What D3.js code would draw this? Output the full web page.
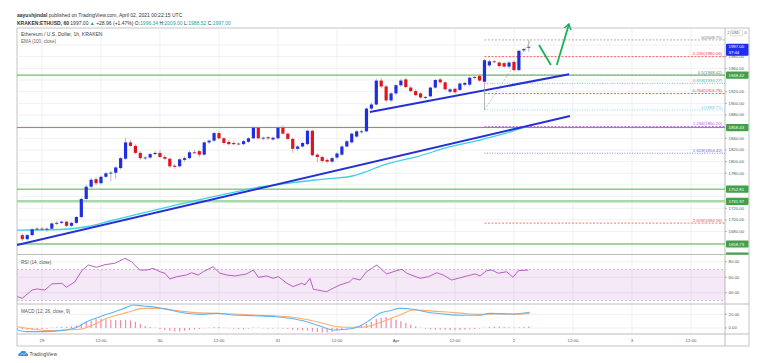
<!DOCTYPE html>
<html>
<head>
<meta charset="utf-8">
<script src="https://cdn.jsdelivr.net/npm/d3@7"></script>
<style>
  body { margin: 0; background: #fff; }
  svg { display: block; font-family: "Liberation Sans", Arial, sans-serif; }
</style>
</head>
<body>
<svg id="chart" width="772" height="363"></svg>
<script>
// hourly candles, hour 0 = 29 Mar 00:00
const firstHour = -4;
const opens = [1674,1667,1674,1684,1685,1684,1685,1694,1695,1697,1690,1695,1705,1736,1757,1770,1763,1774,1780,1781,1789,1805,1833,1827,1815,1806,1807,1813,1815,1808,1805,1793,1792,1803,1806,1816,1818,1812,1833,1836,1849,1840,1834,1832,1831,1830,1834,1840,1858,1840,1842,1838,1840,1858,1848,1839,1822,1826,1830,1853,1812,1808,1803,1800,1807,1812,1826,1833,1843,1851,1852,1891,1898,1939,1929,1905,1917,1931,1941,1927,1921,1917,1910,1912,1927,1941,1936,1920,1925,1923,1932,1932,1944,1947,1937,1965,1972,1970,1969,1963,1971,1957,1991,1996.34];
const highs = [1677,1676,1686,1688,1688,1687,1696,1698,1699,1699,1697,1707,1738,1760,1772,1773,1776,1782,1784,1792,1808,1841,1837,1830,1818,1810,1815,1818,1820,1811,1807,1796,1806,1809,1819,1820,1820,1835,1838,1851,1852,1842,1837,1835,1833,1837,1842,1860,1860,1843,1844,1843,1860,1862,1850,1841,1828,1834,1855,1855,1815,1810,1806,1808,1816,1828,1837,1850,1854,1855,1893,1901,1942,1944,1932,1919,1933,1942,1944,1930,1924,1919,1913,1929,1942,1944,1938,1926,1927,1936,1937,1946,1947,1950,1976,1975,1975,1972,1971,1972,1974,1992,1995,2009];
const lows = [1664,1665,1672,1681,1681,1680,1683,1691,1693,1688,1688,1693,1703,1733,1754,1760,1761,1772,1766,1771,1786,1803,1825,1813,1803,1803,1805,1811,1806,1802,1789,1788,1790,1800,1804,1813,1808,1810,1830,1834,1838,1829,1828,1828,1828,1828,1832,1838,1838,1836,1837,1836,1838,1846,1837,1815,1819,1824,1828,1809,1799,1798,1797,1797,1804,1810,1824,1831,1841,1848,1850,1888,1896,1926,1902,1902,1914,1928,1926,1919,1912,1908,1907,1910,1925,1933,1922,1917,1916,1921,1929,1929,1941,1937,1888.75,1962,1969,1962,1961,1960,1955,1955,1988,1988.52];
const closes = [1667,1674,1684,1685,1684,1685,1694,1695,1697,1690,1695,1705,1736,1757,1769,1763,1774,1780,1781,1790,1806,1833,1827,1815,1806,1807,1813,1815,1808,1805,1792,1791,1804,1806,1816,1815,1812,1833,1836,1849,1840,1832,1830,1830,1830,1835,1840,1858,1840,1841,1840,1841,1858,1848,1839,1822,1826,1832,1853,1811,1808,1801,1800,1806,1814,1826,1835,1848,1852,1852,1891,1898,1939,1929,1905,1917,1931,1939,1928,1921,1914,1910,1911,1927,1940,1936,1924,1924,1919,1934,1935,1944,1945,1939,1974,1972,1971,1964,1963,1970,1957,1990,1993,1997];

const emaHours = [-5.1,3.7,8.7,13.8,19.9,26,32.1,38.2,44.3,50.4,55.5,59.2,62.6,65.7,69.4,76.3,83,89.1,93.1,98.8];
const emaValues = [1682.7,1683.6,1687.9,1698.2,1711,1723,1735,1746,1756.5,1763.4,1768.5,1771.4,1774.5,1782.2,1794.2,1808.5,1825.6,1837,1845.7,1861];

const rsiHours = [-5,-4,-2,-1,0.6,2,4,5,6.7,8.1,9.4,11.1,12.8,14.8,16.9,18.2,19.9,21.3,22.6,24,25,26,27.4,29.4,30.4,31.8,32.8,34.8,36.2,37.6,39.3,41.6,43,44,45.7,47,48.1,49.8,51.1,52.8,53.5,54.5,55.2,57.9,59.2,60.6,62.6,63.3,64.7,66,68.1,70.1,72.1,73.2,74.2,76.9,78.6,80.3,81.6,83.3,84.7,86.4,88.1,89.1,90.4,91.5,92.8,94.5,95.8,96.9,98.9];
const rsiValues = [35,32.9,43.6,44.9,43.6,51.4,52.3,47.1,54.3,68.5,75.9,72.9,76.3,78.1,84.5,80.1,69.4,69.4,71.6,67.2,65.2,57.8,60.8,63,65.9,63,67.2,73.7,65.2,63,61.7,64.3,69.4,60,61.7,58.7,60.8,52.3,47.9,52.3,50.1,58.7,44.5,41.4,45.8,50.1,54.3,58.7,56.5,67.2,75.9,64.3,68.5,70.3,65.2,58.7,60.8,65.9,63,56.5,58.7,61.7,64.3,61.7,68.5,69.4,65.2,67.2,60,68.5,69.4];

const macdHours = [-5,-3.1,0.3,3.7,7.1,9.1,11.8,14.8,17.2,18.6,20.6,23.3,26,29.4,32.1,35.5,38.9,43,47.7,50.4,53.8,56.5,59.2,62,64.7,66.7,68.7,70.8,72.8,75.5,78.2,82.3,85.7,89.1,91.1,95.8,99.2];
const macdValues = [-2.9,-5.4,-5.4,-3.9,1,9.2,16.5,23.8,30.1,33.6,32.1,30.1,26.3,21.4,19.9,21.4,18.9,18,16.5,14.1,9.2,2.9,-2.9,-1.9,2.9,11.7,21.4,25.3,28.7,27.3,23.4,19.9,18.5,18.5,21.4,20.4,22.9];
const signalHours = [-5,-1.8,1.6,5,7.7,10.4,13.2,17.2,20.6,24,27.4,31.5,35.5,38.9,43,47.7,52.5,55.9,59.2,62,64.7,67.4,70.1,72.8,75.5,78.2,82.3,85.7,89.1,92.5,95.8,99.2];
const signalValues = [1.9,-1.5,-3.9,-2.9,-1.9,4.4,14.1,22.4,28.7,28.7,25.3,22.4,21.4,20.4,18.9,17.5,14.1,9.2,2.9,1,1,4.4,11.7,18.9,26.3,25.3,23.4,21.4,19.9,20.4,19.9,21.4];
const histFirstHour = -5;
const histValues = [-1.5,-2,-2.5,-2.5,-2,-1.5,-1,0.5,1,1.5,1.5,2.5,3.5,6,9,11,13,13.5,12.5,12,11.5,11.5,12,11,9,6,3,1.5,0.5,-1.5,-3,-4,-5,-5,-4,-3,-2,-1.5,-0.5,0.5,1,1.5,0.5,-0.5,-1,-1.5,-1.5,-1,0.5,0.5,-0.5,-1,-1,-0.5,-1,-1.5,-2.5,-3,-3.5,-4,-5,-6,-6.5,-6.5,-5.5,-4,-3,-1,0.5,2,3,6,9,13,15,16,14,12,10,7.5,5,2.5,0.5,-1,-2,-2.5,-2.5,-3,-3,-3,-3,-2.5,-2,-1.5,-1,0.5,1.5,2,2,1.5,1,0.5,1,1.5,2];

const timeTicks = [0,12,24,36,48,60,72,84,96,108,120,132];
const timeTickLabels = ["29","12:00","30","12:00","31","12:00","Apr","12:00","2","12:00","3","12:00"];
const priceTicks = [1660,1680,1700,1720,1740,1760,1780,1800,1820,1840,1860,1880,1900,1920,1940,1960,1980,2000];
const rsiTicks = [40,60,80];
const macdTicks = [0,20];

const fibRatios = ["0","0.236","0.5","0.618","0.764","1","1.236","1.618","2.618"];
const fibPrices = [2008.75,1980.06,1948.42,1934.27,1916.78,1888.75,1860.20,1814.42,1694.56];
const fibStartHour = 90;
const levelPrices = [1948.42,1858.43,1752.81,1731.97,1658.73];

const trendHours = [[-5.08,107.4],[66.7,107.2]];
const trendValues = [[1657,1878.3],[1885.1,1949.8]];
const fibDiagHours = [90,99.5];
const fibDiagValues = [1888.75,2008.75];
const arrowDownHours = [101.1,103.5], arrowDownValues = [2000,1965.8];
const arrowUpHours = [104.7,107.2], arrowUpValues = [1965.8,2036];

const lastPrice = 1997.00;

// layout
const L = 17, R = 725, AX = 749;
const mainTop = 28, mainBottom = 254, rsiTop = 255, rsiBottom = 304, macdBottom = 334, frameBottom = 346;

const x = d3.scaleLinear().domain([-5.08, 138.92]).range([L, R]);
const yP = d3.scaleLinear().domain([1641.6, 2029.2]).range([mainBottom, mainTop]);
const yR = d3.scaleLinear().domain([25.5, 88.8]).range([rsiBottom, rsiTop]);
const yM = d3.scaleLinear().domain([-8.8, 34.3]).range([macdBottom, rsiBottom + 0.5]);

const upColor = '#1f2fe0', downColor = '#e3141e', wickColor = '#9a9a9a';
const fibColors = ['#9e9e9e','#f03c3c','#9e9e9e','#2ec4a6','#f03c3c','#7ccbf0','#b05cd8','#6a6ae6','#f25555'];
const axisFont = 4.3;

const svg = d3.select('#chart');
const defs = svg.append('defs');
[['clipMain', mainTop, mainBottom], ['clipRsi', rsiTop, rsiBottom], ['clipMacd', rsiBottom, macdBottom]].forEach(([id, t, b]) => {
  defs.append('clipPath').attr('id', id).append('rect')
    .attr('x', L).attr('y', t).attr('width', R - L).attr('height', b - t);
});
defs.append('marker').attr('id', 'arrowHead').attr('viewBox', '0 0 10 10')
  .attr('refX', 6).attr('refY', 5).attr('markerWidth', 5).attr('markerHeight', 5)
  .attr('orient', 'auto')
  .append('path').attr('d', 'M0,1 L6,5 L0,9').attr('fill', 'none')
  .attr('stroke', '#17b25a').attr('stroke-width', 1.6);

// header
const head1 = svg.append('text').attr('x', L).attr('y', 17).attr('font-size', 5).attr('fill', '#333');
head1.append('tspan').attr('font-weight', 'bold').text('aayushjindal');
head1.append('tspan').text(' published on TradingView.com, April 02, 2021 00:22:15 UTC');
const head2 = svg.append('text').attr('x', L).attr('y', 24.5).attr('font-size', 5).attr('fill', '#333');
head2.append('tspan').attr('font-weight', 'bold').text('KRAKEN:ETHUSD, 60');
head2.append('tspan').text(' 1997.00 ');
head2.append('tspan').attr('fill', '#26a65b').text('▲');
head2.append('tspan').text(' +28.96 (+1.47%) O:');
head2.append('tspan').attr('fill', '#1fa3a3').text('1996.34');
head2.append('tspan').text(' H:');
head2.append('tspan').attr('fill', '#1fa3a3').text('2009.00');
head2.append('tspan').text(' L:');
head2.append('tspan').attr('fill', '#1fa3a3').text('1988.52');
head2.append('tspan').text(' C:');
head2.append('tspan').attr('fill', '#1fa3a3').text('1997.00');

// frame
svg.append('rect').attr('x', L).attr('y', mainTop).attr('width', AX - L).attr('height', frameBottom - mainTop)
  .attr('fill', '#fff').attr('stroke', '#c4c4c4').attr('stroke-width', 1);

// grid
const grid = svg.append('g').attr('stroke', '#ececec').attr('stroke-width', 0.8);
grid.selectAll('line.v').data(timeTicks).join('line').attr('class', 'v')
  .attr('x1', d => x(d)).attr('x2', d => x(d)).attr('y1', mainTop).attr('y2', macdBottom);
grid.selectAll('line.p').data(priceTicks).join('line').attr('class', 'p')
  .attr('x1', L).attr('x2', R).attr('y1', d => yP(d)).attr('y2', d => yP(d));
grid.selectAll('line.r').data(rsiTicks).join('line').attr('class', 'r')
  .attr('x1', L).attr('x2', R).attr('y1', d => yR(d)).attr('y2', d => yR(d));
grid.selectAll('line.m').data(macdTicks).join('line').attr('class', 'm')
  .attr('x1', L).attr('x2', R).attr('y1', d => yM(d)).attr('y2', d => yM(d));

// pane separators
[rsiTop - 0.5, rsiBottom, macdBottom].forEach(yy => {
  svg.append('line').attr('x1', L).attr('x2', AX).attr('y1', yy).attr('y2', yy)
    .attr('stroke', '#bdbdbd').attr('stroke-width', 1);
});
svg.append('line').attr('x1', R).attr('x2', R).attr('y1', mainTop).attr('y2', frameBottom)
  .attr('stroke', '#bdbdbd').attr('stroke-width', 1);

// main pane
const main = svg.append('g').attr('clip-path', 'url(#clipMain)');

// horizontal support/resistance levels
main.selectAll('line.level').data(levelPrices).join('line').attr('class', 'level')
  .attr('x1', L).attr('x2', R).attr('y1', d => yP(d)).attr('y2', d => yP(d))
  .attr('stroke', (d, i) => i === 3 ? '#a8d8ab' : '#4caf50')
  .attr('stroke-width', (d, i) => i === 3 ? 2.4 : 1);

// fib levels
main.selectAll('line.fib').data(fibPrices).join('line').attr('class', 'fib')
  .attr('x1', x(fibStartHour)).attr('x2', R).attr('y1', d => yP(d)).attr('y2', d => yP(d))
  .attr('stroke', (d, i) => fibColors[i]).attr('stroke-width', 0.8)
  .attr('stroke-dasharray', (d, i) => (i === 3 || i === 5 || i === 7) ? '1,1.5' : '2,1.5');
main.selectAll('text.fib').data(fibPrices).join('text').attr('class', 'fib')
  .attr('x', R - 3).attr('y', d => yP(d) - 1.3).attr('text-anchor', 'end')
  .attr('font-size', 4.3).attr('fill', (d, i) => fibColors[i] === '#9e9e9e' ? '#777' : fibColors[i])
  .text((d, i) => `${fibRatios[i]}(${d.toFixed(2)})`);
main.append('line')
  .attr('x1', x(fibDiagHours[0])).attr('y1', yP(fibDiagValues[0]))
  .attr('x2', x(fibDiagHours[1])).attr('y2', yP(fibDiagValues[1]))
  .attr('stroke', '#b0b0b0').attr('stroke-width', 0.8).attr('stroke-dasharray', '2,1.5');

// EMA
const emaLine = d3.line().x((d, i) => x(emaHours[i])).y(d => yP(d)).curve(d3.curveMonotoneX);
main.append('path').datum(emaValues).attr('d', emaLine)
  .attr('fill', 'none').attr('stroke', '#3fd0e6').attr('stroke-width', 1.3);

// trend lines
trendHours.forEach((hs, k) => {
  main.append('line')
    .attr('x1', x(hs[0])).attr('y1', yP(trendValues[k][0]))
    .attr('x2', x(hs[1])).attr('y2', yP(trendValues[k][1]))
    .attr('stroke', '#2430d6').attr('stroke-width', 2);
});

// candles
const candles = opens.map((o, i) => ({ h: firstHour + i, o, hi: highs[i], lo: lows[i], c: closes[i] }));
const cg = main.selectAll('g.candle').data(candles).join('g').attr('class', 'candle');
cg.append('line')
  .attr('x1', d => x(d.h)).attr('x2', d => x(d.h))
  .attr('y1', d => yP(d.hi)).attr('y2', d => yP(d.lo))
  .attr('stroke', wickColor).attr('stroke-width', 0.7);
cg.append('rect')
  .attr('x', d => x(d.h) - 1.6).attr('width', 3.2)
  .attr('y', d => yP(Math.max(d.o, d.c)))
  .attr('height', d => Math.max(0.9, Math.abs(yP(d.o) - yP(d.c))))
  .attr('fill', d => d.c >= d.o ? upColor : downColor);

// legend
svg.append('text').attr('x', 21).attr('y', 35.5).attr('font-size', 5).attr('fill', '#444')
  .text('Ethereum / U.S. Dollar, 1h, KRAKEN');
svg.append('text').attr('x', 21).attr('y', 42.5).attr('font-size', 4.6).attr('fill', '#666')
  .text('EMA (100, close)');

// green arrows
const arrowLine = d3.line().x(d => x(d[0])).y(d => yP(d[1]));
svg.append('path').datum(arrowDownHours.map((h, i) => [h, arrowDownValues[i]])).attr('d', arrowLine)
  .attr('fill', 'none').attr('stroke', '#17b25a').attr('stroke-width', 1.8);
svg.append('path').datum(arrowUpHours.map((h, i) => [h, arrowUpValues[i]])).attr('d', arrowLine)
  .attr('fill', 'none').attr('stroke', '#17b25a').attr('stroke-width', 1.8)
  .attr('marker-end', 'url(#arrowHead)');

// RSI pane
const rsiG = svg.append('g').attr('clip-path', 'url(#clipRsi)');
rsiG.append('rect').attr('x', L).attr('width', R - L)
  .attr('y', yR(70)).attr('height', yR(30) - yR(70)).attr('fill', 'rgba(156,39,176,0.1)');
[70, 30].forEach(v => {
  rsiG.append('line').attr('x1', L).attr('x2', R).attr('y1', yR(v)).attr('y2', yR(v))
    .attr('stroke', '#c9a6d3').attr('stroke-width', 0.8).attr('stroke-dasharray', '2,2');
});
const rsiLine = d3.line().x((d, i) => x(rsiHours[i])).y(d => yR(d));
rsiG.append('path').datum(rsiValues).attr('d', rsiLine)
  .attr('fill', 'none').attr('stroke', '#b04fc0').attr('stroke-width', 0.9);
svg.append('text').attr('x', 21).attr('y', 263.5).attr('font-size', 4.6).attr('fill', '#555')
  .text('RSI (14, close)');

// MACD pane
const macdG = svg.append('g').attr('clip-path', 'url(#clipMacd)');
macdG.selectAll('rect.hist').data(histValues).join('rect').attr('class', 'hist')
  .attr('x', (d, i) => x(histFirstHour + i) - 0.6).attr('width', 1.2)
  .attr('y', d => Math.min(yM(0), yM(d)))
  .attr('height', d => Math.abs(yM(d) - yM(0)))
  .attr('fill', '#f272a0').attr('opacity', 0.85);
const macdLine = d3.line().x((d, i) => x(macdHours[i])).y(d => yM(d)).curve(d3.curveMonotoneX);
const signalLine = d3.line().x((d, i) => x(signalHours[i])).y(d => yM(d)).curve(d3.curveMonotoneX);
macdG.append('path').datum(signalValues).attr('d', signalLine)
  .attr('fill', 'none').attr('stroke', '#ffab70').attr('stroke-width', 1.1);
macdG.append('path').datum(macdValues).attr('d', macdLine)
  .attr('fill', 'none').attr('stroke', '#5ab8f5').attr('stroke-width', 1.1);
svg.append('text').attr('x', 21).attr('y', 312.5).attr('font-size', 4.6).attr('fill', '#555')
  .text('MACD (12, 26, close, 9)');

// price axis: labels hidden where a price box sits on top of them
const boxPrices = levelPrices.concat([lastPrice + 4, lastPrice - 4]);
const freeTicks = priceTicks.filter(t => boxPrices.every(b => Math.abs(yP(t) - yP(b)) > 5));
const axisText = (g, sel, yScale) => {
  g.selectAll('line').data(sel).join('line')
    .attr('x1', R).attr('x2', R + 2).attr('y1', d => yScale(d)).attr('y2', d => yScale(d))
    .attr('stroke', '#888').attr('stroke-width', 0.6);
  g.selectAll('text').data(sel).join('text')
    .attr('x', R + 3.5).attr('y', d => yScale(d) + 1.5)
    .attr('font-size', axisFont).attr('fill', '#555')
    .text(d => d.toFixed(2));
};
axisText(svg.append('g'), freeTicks, yP);
axisText(svg.append('g'), rsiTicks, yR);
axisText(svg.append('g'), macdTicks, yM);

// level boxes on axis
const boxG = svg.append('g');
levelPrices.forEach(v => {
  boxG.append('rect').attr('x', R + 1).attr('y', yP(v) - 3.6).attr('width', 22.5).attr('height', 7.2)
    .attr('rx', 0.8).attr('fill', '#43a047');
  boxG.append('text').attr('x', R + 3.5).attr('y', yP(v) + 1.5).attr('font-size', axisFont)
    .attr('fill', '#fff').text(v.toFixed(2));
});
boxG.append('rect').attr('x', R + 1).attr('y', yP(lastPrice) - 3).attr('width', 22.5).attr('height', 12)
  .attr('rx', 0.8).attr('fill', '#1f2fe8');
boxG.append('text').attr('x', R + 3.5).attr('y', yP(lastPrice) + 1.5).attr('font-size', axisFont)
  .attr('fill', '#fff').text(lastPrice.toFixed(2));
boxG.append('text').attr('x', R + 3.5).attr('y', yP(lastPrice) + 6.8).attr('font-size', axisFont)
  .attr('fill', '#fff').text('37:44');
boxG.append('rect').attr('x', R + 1).attr('y', mainBottom - 1.5).attr('width', 22.5).attr('height', 2)
  .attr('fill', '#43a047');
// currency badge
boxG.append('rect').attr('x', R + 5.5).attr('y', mainTop + 2.2).attr('width', 12).attr('height', 5.6)
  .attr('fill', '#fff').attr('stroke', '#bbb').attr('stroke-width', 0.5).attr('rx', 0.8);
boxG.append('text').attr('x', R + 6.6).attr('y', mainTop + 6.3).attr('font-size', 3.8).attr('fill', '#555')
  .text('USD');
boxG.append('text').attr('x', R + 2.2).attr('y', mainTop + 6.3).attr('font-size', 3.8).attr('fill', '#555')
  .text('2');
boxG.append('text').attr('x', R + 19.5).attr('y', mainTop + 6.3).attr('font-size', 3.8).attr('fill', '#555')
  .text('0');

// time axis
svg.append('g').selectAll('text').data(timeTicks).join('text')
  .attr('x', d => x(d)).attr('y', 341.5).attr('text-anchor', 'middle')
  .attr('font-size', axisFont).attr('fill', '#555')
  .text((d, i) => timeTickLabels[i]);

// TradingView footer
const logo = svg.append('g').attr('transform', 'translate(17.5,350)');
logo.append('path').attr('d', 'M1,6 Q0,3.5 2.5,3.2 Q3,0.5 6,1 Q8.5,0.5 9,3.2 Q11,3.5 10.5,6 Z').attr('fill', '#2f8fe0');
logo.append('path').attr('d', 'M3,5 L5,3.5 L6.5,4.6 L8.5,2.8').attr('fill', 'none').attr('stroke', '#fff').attr('stroke-width', 0.6);
svg.append('text').attr('x', 29.5).attr('y', 355.8).attr('font-size', 5).attr('fill', '#444').text('TradingView');
</script>
</body>
</html>
